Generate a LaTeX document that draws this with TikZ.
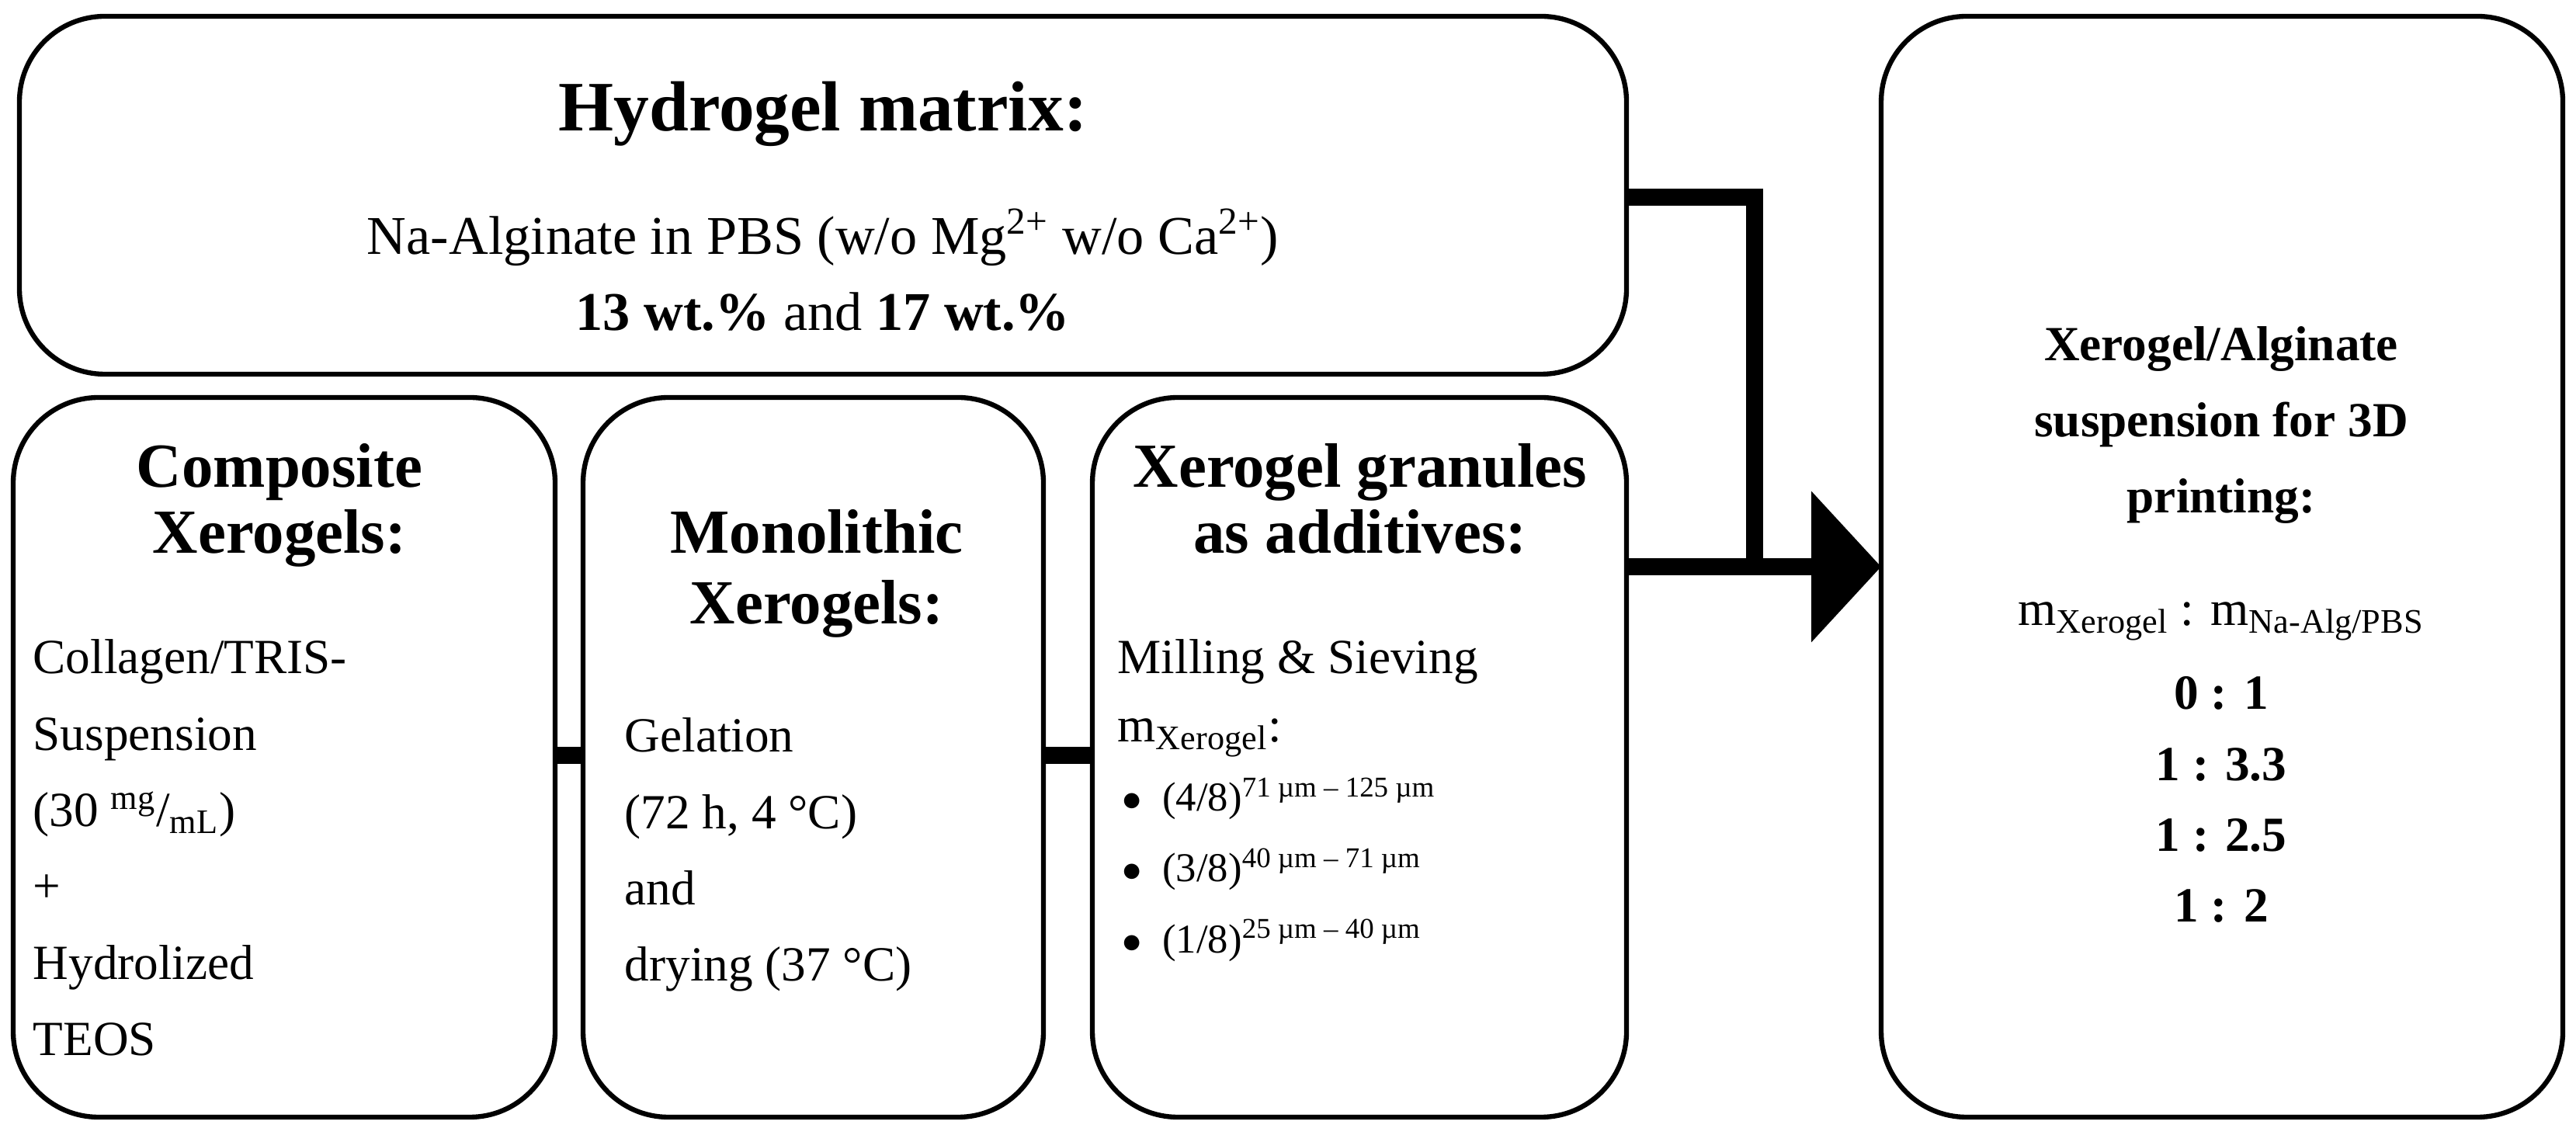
\documentclass[tikz,border=0pt]{standalone}
\usepackage{fontspec}
\setmainfont{Liberation Serif}
\usetikzlibrary{positioning,arrows.meta}
\tikzstyle{box} = [draw, line width=1.8pt, rounded corners=1.1cm]
\tikzstyle{txt} = [inner sep=0pt, font=\fontsize{18}{28}\selectfont]
\tikzstyle{head} = [inner sep=0pt, anchor=base, font=\fontsize{23}{28}\selectfont\bfseries]
\tikzstyle{small} = [inner sep=0pt, font=\fontsize{15}{21}\selectfont]
\tikzstyle{bar} = [line width=6pt]
\begin{document}
\begin{tikzpicture}
        \useasboundingbox (0,0) rectangle (33.18,14.61);
        % boxes
        \draw[box] (0.25,14.40) rectangle (20.95,9.79);
        \draw[box] (0.17,9.49) rectangle (7.15,0.22);
        \draw[box] (7.51,9.49) rectangle (13.44,0.22);
        \draw[box] (14.07,9.49) rectangle (20.95,0.22);
        \draw[box] (24.23,14.40) rectangle (33.01,0.22);
        \coordinate (hyd) at (20.95,12.07);
        \coordinate (gran) at (20.95,7.31);
        \coordinate (bend) at (22.60,12.07);
        \coordinate (join) at (22.60,7.31);
        \coordinate (susp) at (24.23,7.31);
        \coordinate (c1) at (7.15,4.88);
        \coordinate (m1) at (7.51,4.88);
        \coordinate (m2) at (13.44,4.88);
        \coordinate (g1) at (14.07,4.88);
        % texts
        \node[head, font=\fontsize{26}{30}\selectfont\bfseries] (hydro-title) at (10.6,12.92) {Hydrogel matrix:};
        \node[txt, anchor=base, align=center, font=\fontsize{20}{28}\selectfont] (hydro-body) at (10.6,10.35) {Na-Alginate in PBS (w/o Mg\textsuperscript{2+} w/o Ca\textsuperscript{2+})\\\textbf{13 wt.\%} and \textbf{17 wt.\%}};
        \node[head] (comp-title) at (3.6,8.33) {Composite};
        \node[head] (comp-title2) at (3.6,7.48) {Xerogels:};
        \node[txt, anchor=north west, align=left] (comp-body) at (0.42,6.38) {Collagen/TRIS-\\Suspension\\(30 \textsuperscript{mg}/\textsubscript{mL})\\+\\Hydrolized\\TEOS};
        \node[head] (mono-title) at (10.52,7.48) {Monolithic};
        \node[head] (mono-title2) at (10.52,6.57) {Xerogels:};
        \node[txt, anchor=north west, align=left] (mono-body) at (8.04,5.37) {Gelation\\(72 h, 4 °C)\\and\\drying (37 °C)};
        \node[head] (gran-title) at (17.52,8.33) {Xerogel granules};
        \node[head] (gran-title2) at (17.52,7.48) {as additives:};
        \node[txt, anchor=north west, align=left] (gran-body) at (14.39,6.38) {Milling \& Sieving\\[-3pt]m\textsubscript{Xerogel}:};
        \node[small, anchor=north west, align=left] (gran-list) at (14.45,4.6) {$\bullet$\ \ (4/8)\textsuperscript{71 µm -- 125 µm}\\[5pt]$\bullet$\ \ (3/8)\textsuperscript{40 µm -- 71 µm}\\[5pt]$\bullet$\ \ (1/8)\textsuperscript{25 µm -- 40 µm}};
        \node[txt, anchor=base, align=center] (susp-title) at (28.61,8.0) {\textbf{Xerogel/Alginate}\\\textbf{suspension for 3D}\\\textbf{printing:}};
        \node[txt, anchor=base] (ratio) at (28.61,6.55) {m\textsubscript{Xerogel} : m\textsubscript{Na-Alg/PBS}};
        \node[txt, anchor=north, align=center] (ratio-list) at (28.61,5.9) {\textbf{0 : 1}\\[-2pt]\textbf{1 : 3.3}\\[-2pt]\textbf{1 : 2.5}\\[-2pt]\textbf{1 : 2}};
        % connectors
        \draw[bar] (c1) -- (m1);
        \draw[bar] (m2) -- (g1);
        \draw[bar] (hyd) -- (bend) -- (join);
        \draw[bar, -{Triangle[length=0.9cm, width=1.9cm]}] (gran) -- (susp);
    \end{tikzpicture}
\end{document}
